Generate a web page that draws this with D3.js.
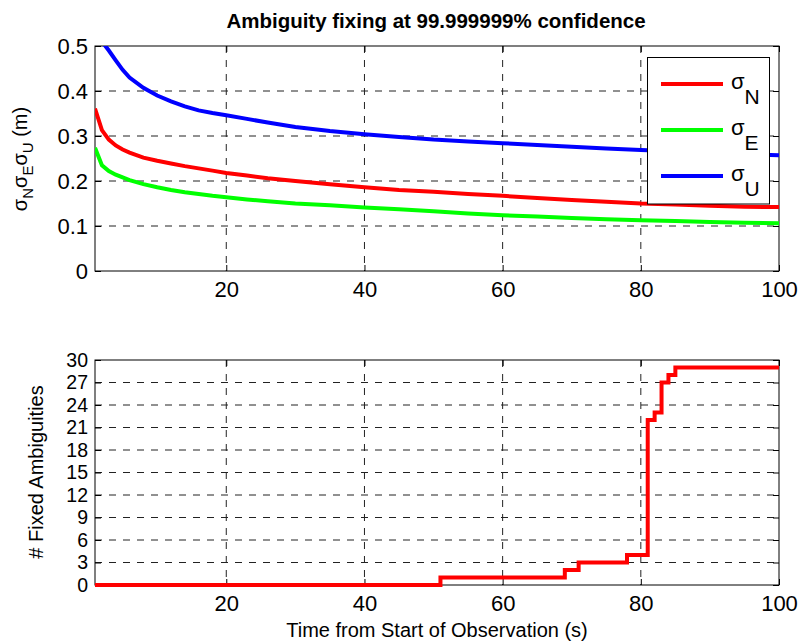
<!DOCTYPE html>
<html>
<head>
<meta charset="utf-8">
<script src="https://cdn.jsdelivr.net/npm/d3@7"></script>
<style>
  body { margin: 0; background: #fff; }
  svg text { font-family: "Liberation Sans", Arial, sans-serif; fill: #000; }
  .axis path { display: none; }
  .axis line { stroke: #000; }
  .axis text { font-size: 22px; }
  .axis.tight text { font-size: 19.5px; }
  .grid line { stroke: #222; stroke-dasharray: 7,7; }
</style>
</head>
<body>
<div class="chart"></div>
<script>
// time since start of observation (s)
const times = [1, 2, 3, 4, 5, 6, 8, 10, 12, 14, 16, 18, 20, 23, 26, 30, 35, 40, 45, 50, 55, 60, 65, 70, 75, 80, 85, 90, 95, 100];
// standard deviations (m)
const sigmaN = [0.361, 0.313, 0.292, 0.279, 0.270, 0.263, 0.252, 0.245, 0.239, 0.233, 0.228, 0.223, 0.218, 0.212, 0.206, 0.200, 0.193, 0.186, 0.180, 0.176, 0.171, 0.167, 0.162, 0.158, 0.154, 0.150, 0.148, 0.145, 0.143, 0.142];
const sigmaE = [0.274, 0.235, 0.222, 0.214, 0.208, 0.202, 0.193, 0.186, 0.180, 0.175, 0.171, 0.167, 0.164, 0.159, 0.155, 0.150, 0.146, 0.141, 0.137, 0.133, 0.128, 0.124, 0.121, 0.118, 0.115, 0.113, 0.111, 0.109, 0.107, 0.106];
const sigmaU = [0.540, 0.510, 0.490, 0.468, 0.447, 0.430, 0.407, 0.390, 0.377, 0.366, 0.357, 0.351, 0.346, 0.338, 0.330, 0.320, 0.311, 0.304, 0.298, 0.292, 0.288, 0.284, 0.280, 0.276, 0.272, 0.269, 0.266, 0.263, 0.260, 0.257];

// number of fixed ambiguities (stairs)
const fixTimes = [1, 51, 69, 71, 78, 81, 82, 83, 84, 85, 100];
const fixCounts = [0, 1, 2, 3, 4, 22, 23, 27, 28, 29, 29];

const xTicks = [20, 40, 60, 80, 100];
const topYTicks = [0, 0.1, 0.2, 0.3, 0.4, 0.5];
const bottomYTicks = [0, 3, 6, 9, 12, 15, 18, 21, 24, 27, 30];

const seriesNames = ['N', 'E', 'U'];
const seriesColors = ['#ff0000', '#00ff00', '#0000ff'];

const width = 804, height = 642;
const left = 95, right = 779;

const svg = d3.select('.chart').append('svg')
    .attr('width', width)
    .attr('height', height);

let x = d3.scaleLinear().domain([1, 100]).range([left, right]);
let yTop = d3.scaleLinear().domain([0, 0.5]).range([271, 46]);
let yBot = d3.scaleLinear().domain([0, 30]).range([585, 360]);

// draws grid, ticks and box for one panel
function drawFrame(y, yTicks, yFormat, id, yClass) {
    let top = y.range()[1], bottom = y.range()[0];
    let g = svg.append('g');

    // grid
    let grid = g.append('g').attr('class', 'grid');
    grid.selectAll('.vx')
        .data(xTicks.filter(d => d < 100))
        .enter().append('line')
        .attr('x1', d => x(d)).attr('x2', d => x(d))
        .attr('y1', top).attr('y2', bottom);
    grid.selectAll('.hy')
        .data(yTicks.slice(1, -1))
        .enter().append('line')
        .attr('x1', left).attr('x2', right)
        .attr('y1', d => y(d)).attr('y2', d => y(d));

    // ticks pointing inwards
    g.append('g').attr('class', 'axis')
        .attr('transform', 'translate(0,' + bottom + ')')
        .call(d3.axisBottom(x).tickValues(xTicks).tickSize(-6).tickPadding(10));
    g.append('g').attr('class', 'axis')
        .attr('transform', 'translate(0,' + top + ')')
        .call(d3.axisTop(x).tickValues(xTicks).tickSize(-6).tickFormat(''));
    g.append('g').attr('class', 'axis ' + yClass)
        .attr('transform', 'translate(' + left + ',0)')
        .call(d3.axisLeft(y).tickValues(yTicks).tickSize(-6).tickPadding(7).tickFormat(yFormat));
    g.append('g').attr('class', 'axis')
        .attr('transform', 'translate(' + right + ',0)')
        .call(d3.axisRight(y).tickValues(yTicks).tickSize(-6).tickFormat(''));

    g.append('rect')
        .attr('x', left).attr('y', top)
        .attr('width', right - left).attr('height', bottom - top)
        .style('fill', 'none').style('stroke', '#000').style('stroke-width', 1);

    svg.append('clipPath').attr('id', id)
        .append('rect')
        .attr('x', left).attr('y', top)
        .attr('width', right - left).attr('height', bottom - top);
}

drawFrame(yTop, topYTicks, d => d === 0 ? '0' : d3.format('.1f')(d), 'clipTop', '');
drawFrame(yBot, bottomYTicks, d3.format('d'), 'clipBot', 'tight');

// sigma curves
[sigmaN, sigmaE, sigmaU].forEach(function (vals, i) {
    let line = d3.line()
        .x((d, j) => x(times[j]))
        .y(d => yTop(d));
    svg.append('path')
        .datum(vals)
        .attr('clip-path', 'url(#clipTop)')
        .attr('d', line)
        .style('fill', 'none')
        .style('stroke', seriesColors[i])
        .style('stroke-width', 4);
});

// fixed ambiguities stairs
svg.append('path')
    .datum(fixCounts)
    .attr('d', d3.line().curve(d3.curveStepAfter)
        .x((d, j) => x(fixTimes[j]))
        .y(d => yBot(d)))
    .style('fill', 'none')
    .style('stroke', '#ff0000')
    .style('stroke-width', 4);

// legend
let legend = svg.append('g');
legend.append('rect')
    .attr('x', 647.5).attr('y', 57.5)
    .attr('width', 122).attr('height', 146.5)
    .style('fill', '#fff').style('stroke', '#000');
seriesNames.forEach(function (name, i) {
    let ly = 84 + i * 46;
    legend.append('line')
        .attr('x1', 661).attr('x2', 723)
        .attr('y1', ly).attr('y2', ly)
        .style('stroke', seriesColors[i])
        .style('stroke-width', 4);
    let t = legend.append('text')
        .attr('x', 731).attr('y', ly + 5)
        .style('font-size', '22px');
    t.append('tspan').text('σ');
    t.append('tspan').attr('dy', 15).style('font-size', '21px').text(name);
});

// title and labels
svg.append('text')
    .attr('x', 436).attr('y', 28)
    .attr('text-anchor', 'middle')
    .style('font-size', '20.5px')
    .style('font-weight', 'bold')
    .text('Ambiguity fixing at 99.999999% confidence');

let ylab = svg.append('text')
    .attr('text-anchor', 'middle')
    .attr('transform', 'translate(27,159) rotate(-90)')
    .style('font-size', '20px');
seriesNames.forEach(function (name, i) {
    ylab.append('tspan').attr('dy', i === 0 ? 0 : -6).text('σ');
    ylab.append('tspan').attr('dy', 6).style('font-size', '15px').text(name);
});
ylab.append('tspan').attr('dy', -6).text(' (m)');

svg.append('text')
    .attr('text-anchor', 'middle')
    .attr('transform', 'translate(43,472) rotate(-90)')
    .style('font-size', '20px')
    .text('# Fixed Ambiguities');

svg.append('text')
    .attr('x', 437).attr('y', 637)
    .attr('text-anchor', 'middle')
    .style('font-size', '20px')
    .text('Time from Start of Observation (s)');
</script>
</body>
</html>
